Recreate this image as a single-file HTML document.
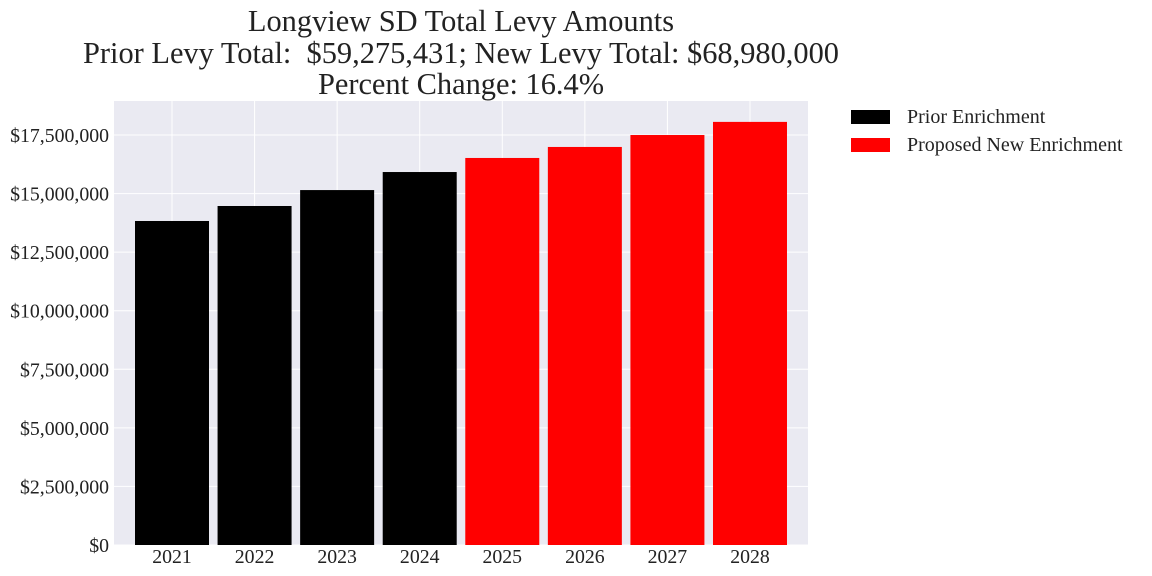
<!DOCTYPE html>
<html><head><meta charset="utf-8"><style>
body{margin:0;background:#fff;}
svg{display:block;font-family:"Liberation Serif",serif;}
text{white-space:pre;}
</style></head><body>
<svg id="chart" width="1152" height="576">
<g font-size="30.4" text-anchor="middle" fill="#222">
<text x="461" y="31">Longview SD Total Levy Amounts</text>
<text x="461" y="63">Prior Levy Total:  $59,275,431; New Levy Total: $68,980,000</text>
<text x="461" y="94">Percent Change: 16.4%</text>
</g>
<rect x="114" y="101" width="694" height="444" fill="#eaeaf2"/>
<g id="grid"></g><g id="bars"></g><g id="axes"></g>
<g font-size="20" fill="#222">
<rect x="851" y="110" width="39" height="14" fill="#000"/>
<text x="907" y="123">Prior Enrichment</text>
<rect x="851" y="138" width="39" height="14" fill="#ff0000"/>
<text x="907" y="151">Proposed New Enrichment</text>
</g>
</svg>
<script>
const years=["2021","2022","2023","2024","2025","2026","2027","2028"];
const values=[13830000,14470000,15150000,15920000,16520000,16990000,17500000,18060000];
const isNew=[false,false,false,false,true,true,true,true];
const yTicks=[0,2500000,5000000,7500000,10000000,12500000,15000000,17500000];
const NS="http://www.w3.org/2000/svg";
const x=i=>172+82.57*i;
const y=v=>545-v/2500000*58.57;
function mk(t,a,p){const e=document.createElementNS(NS,t);for(const k in a)e.setAttribute(k,a[k]);p.appendChild(e);return e;}
const g=document.getElementById('grid'),b=document.getElementById('bars'),ax=document.getElementById('axes');
yTicks.forEach(t=>{
 const l=mk('line',{x1:114,x2:808,y1:y(t),y2:y(t),stroke:'#fff','stroke-width':1},g);
 
 
 const tx=mk('text',{x:109,y:y(t)+7,'text-anchor':'end','font-size':19.8,fill:'#222'},ax);
 tx.textContent='$'+t.toLocaleString('en-US');
 
 
});
years.forEach((yr,i)=>{
 const l=mk('line',{x1:x(i),x2:x(i),y1:101,y2:545,stroke:'#fff','stroke-width':1},g);
 
 
 const r=mk('rect',{x:x(i)-37,y:y(values[i]),width:74,height:545-y(values[i]),fill:isNew[i]?'#ff0000':'#000'},b);
 
 
 const tx=mk('text',{x:x(i),y:563,'text-anchor':'middle','font-size':19.8,fill:'#222'},ax);
 tx.textContent=yr;
 
 
});
</script>
</body></html>
